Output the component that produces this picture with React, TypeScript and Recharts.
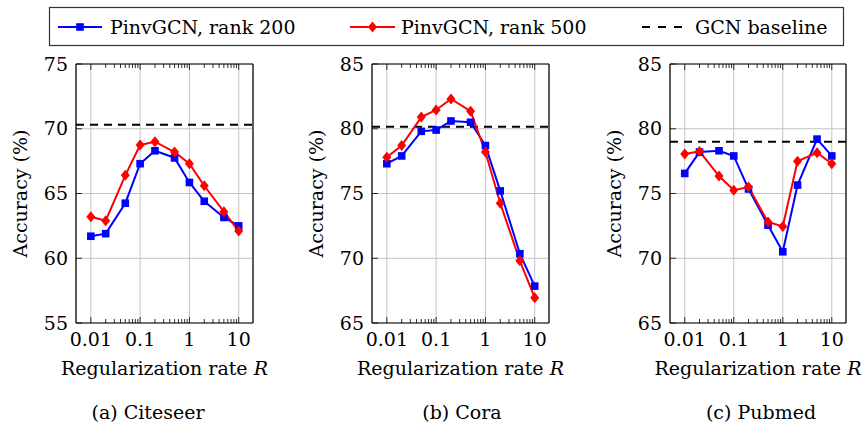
import React from "react";
import { LineChart, Line, XAxis, YAxis, CartesianGrid, ReferenceLine, Label } from "recharts";

// regularization rates R (x axis, log scale)
const rates = [0.01, 0.02, 0.05, 0.1, 0.2, 0.5, 1, 2, 5, 10];

// accuracy (%)
const citeseerRank200 = [61.7, 61.9, 64.25, 67.3, 68.3, 67.75, 65.85, 64.4, 63.15, 62.5];
const citeseerRank500 = [63.2, 62.9, 66.4, 68.75, 69.0, 68.2, 67.3, 65.6, 63.6, 62.1];
const coraRank200 = [77.3, 77.9, 79.8, 79.9, 80.6, 80.5, 78.7, 75.2, 70.35, 67.85];
const coraRank500 = [77.8, 78.7, 80.9, 81.45, 82.3, 81.35, 78.2, 74.25, 69.8, 66.95];
const pubmedRank200 = [76.55, 78.2, 78.3, 77.9, 75.35, 72.55, 70.5, 75.65, 79.2, 77.9];
const pubmedRank500 = [78.05, 78.25, 76.35, 75.25, 75.5, 72.8, 72.45, 77.5, 78.15, 77.3];

// GCN baselines
const citeseerBaseline = 70.3;
const coraBaseline = 80.15;
const pubmedBaseline = 79.0;

const citeseerTicks = [55, 60, 65, 70, 75];
const coraTicks = [65, 70, 75, 80, 85];
const pubmedTicks = [65, 70, 75, 80, 85];

const majorTicks = [0.01, 0.1, 1, 10];
const minorTicks = [
  0.02, 0.03, 0.04, 0.05, 0.06, 0.07, 0.08, 0.09,
  0.2, 0.3, 0.4, 0.5, 0.6, 0.7, 0.8, 0.9,
  2, 3, 4, 5, 6, 7, 8, 9,
];
const allXTicks = [...majorTicks, ...minorTicks];

const FONT = "'DejaVu Serif', serif";
const FS = 19;
const BLUE = "#0000ff";
const RED = "#ff0000";
const X_DOMAIN: [number, number] = [0.005, 19.5];

const isMajor = (v: number) => majorTicks.some((m) => Math.abs(m - v) < 1e-9);

const BottomTick = (props: any) => {
  const { x, y, payload } = props;
  const major = isMajor(payload.value);
  return (
    <g>
      <line x1={x} x2={x} y1={y} y2={y - (major ? 6 : 4)} stroke="#000" strokeWidth={0.8} />
      {major && (
        <text x={x} y={y + 23} textAnchor="middle" fontFamily={FONT} fontSize={FS} fill="#000">
          {String(payload.value)}
        </text>
      )}
    </g>
  );
};

const TopTick = (props: any) => {
  const { x, y, payload } = props;
  const major = isMajor(payload.value);
  return <line x1={x} x2={x} y1={y} y2={y + (major ? 6 : 4)} stroke="#000" strokeWidth={0.8} />;
};

const LeftTick = (props: any) => {
  const { x, y, payload } = props;
  return (
    <g>
      <line x1={x} x2={x + 6} y1={y} y2={y} stroke="#000" strokeWidth={0.8} />
      <text x={x - 8} y={y} dy="0.35em" textAnchor="end" fontFamily={FONT} fontSize={FS} fill="#000">
        {payload.value}
      </text>
    </g>
  );
};

const RightTick = (props: any) => {
  const { x, y } = props;
  return <line x1={x} x2={x - 6} y1={y} y2={y} stroke="#000" strokeWidth={0.8} />;
};

const SquareDot = (props: any) => {
  const { cx, cy } = props;
  if (cx == null || cy == null) return null;
  return <rect x={cx - 3.8} y={cy - 3.8} width={7.6} height={7.6} fill={BLUE} />;
};

const DiamondDot = (props: any) => {
  const { cx, cy } = props;
  if (cx == null || cy == null) return null;
  return (
    <polygon
      points={`${cx},${cy - 5.5} ${cx + 4.5},${cy} ${cx},${cy + 5.5} ${cx - 4.5},${cy}`}
      fill={RED}
    />
  );
};

interface PanelProps {
  left: number;
  plotLeft: number;
  plotRight: number;
  rank200: number[];
  rank500: number[];
  baseline: number;
  yTicks: number[];
  caption: string;
  captionX: number;
}

const Y_AXIS_W = 40;
const X_AXIS_H = 30;

function Panel({ left, plotLeft, plotRight, rank200, rank500, baseline, yTicks, caption, captionX }: PanelProps) {
  const data = rates.map((r, i) => ({ r, a: rank200[i], b: rank500[i] }));
  const yDomain: [number, number] = [yTicks[0], yTicks[yTicks.length - 1]];
  const width = 290;
  const height = 425;

  return (
    <div style={{ position: "absolute", left, top: 0 }}>
      <LineChart
        width={width}
        height={height}
        data={data}
        margin={{
          top: 64 - 1,
          right: width - plotRight - 1,
          bottom: height - 323 - X_AXIS_H,
          left: plotLeft - Y_AXIS_W,
        }}
      >
        <XAxis xAxisId="g" dataKey="r" type="number" scale="log" domain={X_DOMAIN} ticks={majorTicks} allowDataOverflow hide />
        <XAxis
          xAxisId="b"
          dataKey="r"
          type="number"
          scale="log"
          domain={X_DOMAIN}
          allowDataOverflow
          ticks={allXTicks}
          interval={0}
          tickSize={0}
          tickMargin={0}
          height={X_AXIS_H}
          tick={<BottomTick />}
          tickLine={false}
          axisLine={{ stroke: "#000", strokeWidth: 1.2 }}
        >
          <Label
            position="insideTop"
            content={(p: any) => {
              const vb = p.viewBox;
              return (
                <g>
                  <text x={vb.x + vb.width / 2} y={vb.y + 52} textAnchor="middle" fontFamily={FONT} fontSize={FS} fill="#000">
                    <tspan>Regularization rate </tspan>
                    <tspan fontStyle="italic">R</tspan>
                  </text>
                  <text x={captionX} y={vb.y + 96} textAnchor="middle" fontFamily={FONT} fontSize={FS} fill="#000">
                    {caption}
                  </text>
                </g>
              );
            }}
          />
        </XAxis>
        <XAxis
          xAxisId="t"
          orientation="top"
          dataKey="r"
          type="number"
          scale="log"
          domain={X_DOMAIN}
          allowDataOverflow
          ticks={allXTicks}
          interval={0}
          tickSize={0}
          tickMargin={0}
          height={1}
          tick={<TopTick />}
          tickLine={false}
          axisLine={{ stroke: "#000", strokeWidth: 1.2 }}
        />
        <YAxis
          yAxisId="l"
          type="number"
          domain={yDomain}
          ticks={yTicks}
          interval={0}
          width={Y_AXIS_W}
          tickSize={0}
          tickMargin={0}
          tick={<LeftTick />}
          tickLine={false}
          axisLine={{ stroke: "#000", strokeWidth: 1.2 }}
        >
          <Label
            position="insideLeft"
            content={(p: any) => {
              const vb = p.viewBox;
              const cx = vb.x + vb.width - 56;
              const cy = vb.y + vb.height / 2;
              return (
                <text
                  x={cx}
                  y={cy}
                  transform={`rotate(-90, ${cx}, ${cy})`}
                  textAnchor="middle"
                  dominantBaseline="central"
                  fontFamily={FONT}
                  fontSize={FS}
                  fill="#000"
                >
                  Accuracy (%)
                </text>
              );
            }}
          />
        </YAxis>
        <YAxis
          yAxisId="r"
          orientation="right"
          type="number"
          domain={yDomain}
          ticks={yTicks}
          interval={0}
          width={1}
          tickSize={0}
          tickMargin={0}
          tick={<RightTick />}
          tickLine={false}
          axisLine={{ stroke: "#000", strokeWidth: 1.2 }}
        />
        <CartesianGrid xAxisId="g" yAxisId="l" stroke="#c4c4c4" strokeWidth={1} />
        <ReferenceLine
          xAxisId="b"
          yAxisId="l"
          y={baseline}
          stroke="#000"
          strokeWidth={2}
          strokeDasharray="8 6"
        />
        <Line
          xAxisId="b"
          yAxisId="l"
          dataKey="a"
          stroke={BLUE}
          strokeWidth={2}
          dot={<SquareDot />}
          activeDot={false}
          isAnimationActive={false}
        />
        <Line
          xAxisId="b"
          yAxisId="l"
          dataKey="b"
          stroke={RED}
          strokeWidth={2}
          dot={<DiamondDot />}
          activeDot={false}
          isAnimationActive={false}
        />
      </LineChart>
    </div>
  );
}

function LegendBox() {
  const ty = 27;
  return (
    <svg width={865} height={50} style={{ position: "absolute", left: 0, top: 0 }}>
      <rect x={49.5} y={7.5} width={794} height={38} fill="#fff" stroke="#333" strokeWidth={1.2} />
      <line x1={58} x2={102} y1={ty} y2={ty} stroke={BLUE} strokeWidth={2} />
      <rect x={76.2} y={ty - 3.8} width={7.6} height={7.6} fill={BLUE} />
      <text x={110} y={ty} dy="0.35em" fontFamily={FONT} fontSize={FS} fill="#000">
        PinvGCN, rank 200
      </text>
      <line x1={350} x2={395} y1={ty} y2={ty} stroke={RED} strokeWidth={2} />
      <polygon points={`372.5,${ty - 5.5} 377,${ty} 372.5,${ty + 5.5} 368,${ty}`} fill={RED} />
      <text x={401} y={ty} dy="0.35em" fontFamily={FONT} fontSize={FS} fill="#000">
        PinvGCN, rank 500
      </text>
      <line x1={642} x2={683} y1={ty} y2={ty} stroke="#000" strokeWidth={2} strokeDasharray="8 8" />
      <text x={695} y={ty} dy="0.35em" fontFamily={FONT} fontSize={FS} fill="#000">
        GCN baseline
      </text>
    </svg>
  );
}

export default function App() {
  return (
    <div style={{ position: "absolute", left: 0, top: 0, width: 865, height: 425, background: "#fff" }}>
      <Panel
        left={0}
        plotLeft={76}
        plotRight={253}
        rank200={citeseerRank200}
        rank500={citeseerRank500}
        baseline={citeseerBaseline}
        yTicks={citeseerTicks}
        caption="(a) Citeseer"
        captionX={148}
      />
      <Panel
        left={290}
        plotLeft={82}
        plotRight={259}
        rank200={coraRank200}
        rank500={coraRank500}
        baseline={coraBaseline}
        yTicks={coraTicks}
        caption="(b) Cora"
        captionX={172}
      />
      <Panel
        left={575}
        plotLeft={95}
        plotRight={271}
        rank200={pubmedRank200}
        rank500={pubmedRank500}
        baseline={pubmedBaseline}
        yTicks={pubmedTicks}
        caption="(c) Pubmed"
        captionX={186}
      />
      <LegendBox />
    </div>
  );
}
